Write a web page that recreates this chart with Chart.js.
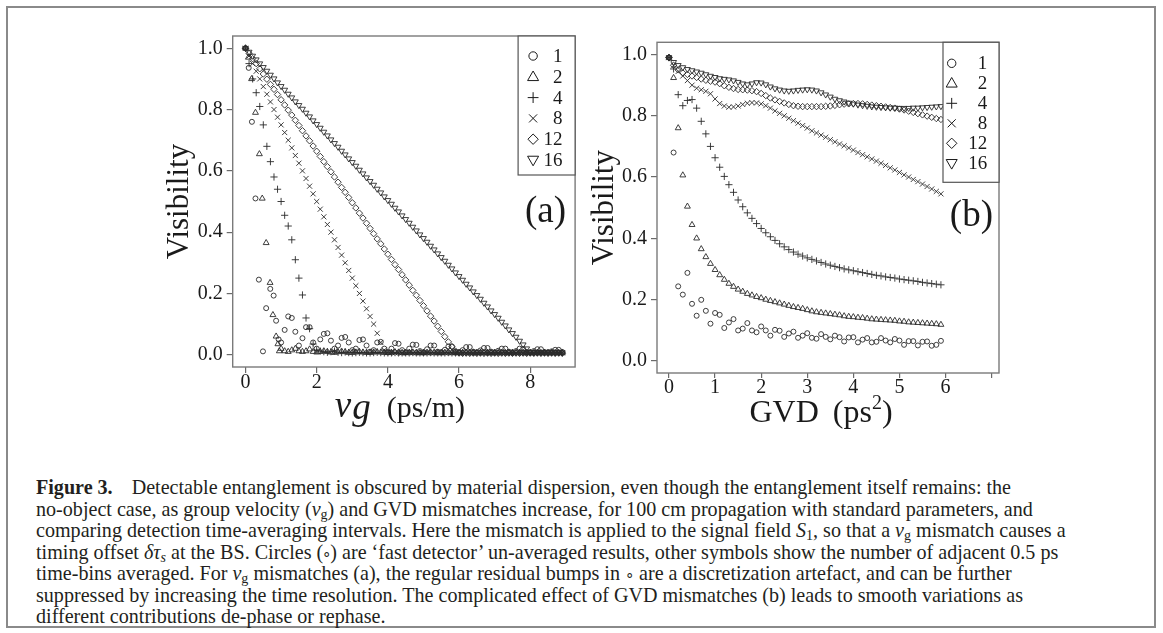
<!DOCTYPE html>
<html><head><meta charset="utf-8">
<script src="https://cdn.jsdelivr.net/npm/chart.js@4.4.1/dist/chart.umd.min.js"></script>
<style>
html,body{margin:0;padding:0;background:#fff;width:1163px;height:633px;overflow:hidden;}
#frame{position:absolute;left:6px;top:6px;width:1146px;height:618px;border:2px solid #8a8a8a;}
#wa{position:absolute;left:150px;top:20px;width:430px;height:420px;}
#wb{position:absolute;left:580px;top:20px;width:440px;height:420px;}
#cap{position:absolute;left:36px;top:477px;font-family:"Liberation Serif",serif;font-size:20.1px;color:#231f20;white-space:nowrap;}
#cap div{height:21.5px;line-height:21.5px;overflow:visible;}
#cap i{font-style:italic;}
#cap sub{font-size:70%;vertical-align:-3px;line-height:0;}
#cap .o{font-size:75%;line-height:0;}
#cap .p{margin:0 -1px;}
</style></head><body>
<div id="frame"></div>
<div id="wa"><canvas id="ca" width="430" height="420"></canvas></div>
<div id="wb"><canvas id="cb" width="440" height="420"></canvas></div>
<div id="cap">
<div><b>Figure 3.</b><span style="display:inline-block;width:19px"></span>Detectable entanglement is obscured by material dispersion, even though the entanglement itself remains: the</div>
<div>no-object case, as group velocity (<i>v</i><sub>g</sub>) and GVD mismatches increase, for 100 cm propagation with standard parameters, and</div>
<div>comparing detection time-averaging intervals. Here the mismatch is applied to the signal field <i>S</i><sub>1</sub>, so that a <i>v</i><sub>g</sub> mismatch causes a</div>
<div>timing offset <i>δτ<sub>s</sub></i> at the BS. Circles (<span class="o p">∘</span>) are ‘fast detector’ un-averaged results, other symbols show the number of adjacent 0.5 ps</div>
<div>time-bins averaged. For <i>v</i><sub>g</sub> mismatches (a), the regular residual bumps in <span class="o">∘</span> are a discretization artefact, and can be further</div>
<div>suppressed by increasing the time resolution. The complicated effect of GVD mismatches (b) leads to smooth variations as</div>
<div>different contributions de-phase or rephase.</div>
</div>
<script>
// ---------- DATA ----------
const seriesLabels = ['1','2','4','8','12','16'];
const yTicksLabel = 'Visibility';

// Panel (a): group-velocity mismatch v_g (ps/m)
const aX = [0,0.1,0.2,0.3,0.4,0.5,0.6,0.7,0.8,0.9,1,1.1,1.2,1.3,1.4,1.5,1.6,1.7,1.8,1.9,2,2.1,2.2,2.3,2.4,2.5,2.6,2.7,2.8,2.9,3,3.1,3.2,3.3,3.4,3.5,3.6,3.7,3.8,3.9,4,4.1,4.2,4.3,4.4,4.5,4.6,4.7,4.8,4.9,5,5.1,5.2,5.3,5.4,5.5,5.6,5.7,5.8,5.9,6,6.1,6.2,6.3,6.4,6.5,6.6,6.7,6.8,6.9,7,7.1,7.2,7.3,7.4,7.5,7.6,7.7,7.8,7.9,8,8.1,8.2,8.3,8.4,8.5,8.6,8.7,8.8,8.9];
const aX1 = [0,0.09,0.18,0.28,0.375,0.49,0.58,0.695,0.79,0.86,0.93,1,1.1,1.2,1.3,1.4,1.5,1.6,1.7,1.8,1.9,2,2.1,2.2,2.3,2.4,2.5,2.6,2.7,2.8,2.9,3,3.1,3.2,3.3,3.4,3.5,3.6,3.7,3.8,3.9,4,4.1,4.2,4.3,4.4,4.5,4.6,4.7,4.8,4.9,5,5.1,5.2,5.3,5.4,5.5,5.6,5.7,5.8,5.9,6,6.1,6.2,6.3,6.4,6.5,6.6,6.7,6.8,6.9,7,7.1,7.2,7.3,7.4,7.5,7.6,7.7,7.8,7.9,8,8.1,8.2,8.3,8.4,8.5,8.6,8.7,8.8,8.9];
const aV1 = [1.0,0.936,0.76,0.51,0.245,0.011,0.152,0.215,0.193,0.111,0.05,
0.04,0.081,0.125,0.12,0.075,0.03,0.054,0.09,0.09,0.04,
0.02,0.05,0.068,0.07,0.046,0.02,0.03,0.055,0.058,0.04,
0.015,0.02,0.048,0.05,0.03,0.01,0.015,0.04,0.042,0.02,
0.008,0.02,0.038,0.036,0.015,0.008,0.02,0.033,0.032,0.012,
0.008,0.018,0.03,0.03,0.01,0.008,0.016,0.027,0.027,0.01,
0.008,0.015,0.025,0.025,0.01,0.008,0.014,0.022,0.022,0.01,
0.008,0.013,0.02,0.02,0.01,0.008,0.012,0.02,0.019,0.009,
0.008,0.012,0.018,0.018,0.009,0.008,0.011,0.016,0.016,0.009];
const aX2 = [0,0.08,0.17,0.28,0.39,0.47,0.58,0.69,0.77,0.86,0.91,0.95,1,1.1,1.2,1.3,1.4,1.5,1.6,1.7,1.8,1.9,2,2.1,2.2,2.3,2.4,2.5,2.6,2.7,2.8,2.9,3,3.1,3.2,3.3,3.4,3.5,3.6,3.7,3.8,3.9,4,4.1,4.2,4.3,4.4,4.5,4.6,4.7,4.8,4.9,5,5.1,5.2,5.3,5.4,5.5,5.6,5.7,5.8,5.9,6,6.1,6.2,6.3,6.4,6.5,6.6,6.7,6.8,6.9,7,7.1,7.2,7.3,7.4,7.5,7.6,7.7,7.8,7.9,8,8.1,8.2,8.3,8.4,8.5,8.6,8.7,8.8,8.9];
const aV2 = [1.0,0.97,0.90,0.79,0.655,0.51,0.365,0.235,0.13,0.06,0.035,0.012,
0.02,0.012,0.01,0.015,0.02,0.012,0.01,0.012,0.018,0.01,
0.008,0.01,0.012,0.01,0.008,0.007,0.009,0.011,0.009,0.007,
0.007,0.008,0.01,0.008,0.007,0.007,0.008,0.009,0.008,0.007,
0.006,0.007,0.009,0.008,0.006,0.006,0.007,0.008,0.007,0.006,
0.006,0.007,0.008,0.007,0.006,0.006,0.007,0.008,0.007,0.006,
0.006,0.007,0.007,0.007,0.006,0.006,0.007,0.007,0.006,0.006,
0.006,0.006,0.007,0.006,0.006,0.006,0.006,0.007,0.006,0.006,
0.006,0.006,0.007,0.006,0.006,0.006,0.006,0.006,0.006,0.006];
const aV4 = [1.000,0.950,0.900,0.855,0.810,0.750,0.680,0.630,0.580,0.540,
0.500,0.455,0.420,0.375,0.310,0.250,0.195,0.120,0.085,0.035,
0.015,0.012,0.01,0.008,0.01,0.012,0.008,0.007,0.009,0.007,
0.006,0.007,0.008,0.007,0.006,0.006,0.007,0.008,0.007,0.006,
0.006,0.006,0.007,0.006,0.006,0.006,0.006,0.007,0.006,0.006,
0.006,0.006,0.007,0.006,0.006,0.006,0.006,0.007,0.006,0.006,
0.006,0.006,0.006,0.006,0.006,0.006,0.006,0.006,0.006,0.006,
0.006,0.006,0.006,0.006,0.006,0.006,0.006,0.006,0.006,0.006,
0.006,0.006,0.006,0.006,0.006,0.006,0.006,0.006,0.006,0.006];
const aV8 = [1.000,0.975,0.950,0.925,0.900,0.875,0.850,0.825,0.800,0.775,
0.750,0.725,0.700,0.675,0.650,0.625,0.600,0.575,0.550,0.525,
0.500,0.475,0.450,0.425,0.400,0.375,0.350,0.325,0.300,0.275,
0.250,0.225,0.200,0.175,0.150,0.125,0.100,0.070,0.040,0.015,
0.008,0.007,0.006,0.007,0.006,0.006,0.007,0.006,0.006,0.006,
0.006,0.006,0.006,0.006,0.006,0.006,0.006,0.006,0.006,0.006,
0.006,0.006,0.006,0.006,0.006,0.006,0.006,0.006,0.006,0.006,
0.006,0.006,0.006,0.006,0.006,0.006,0.006,0.006,0.006,0.006,
0.006,0.006,0.006,0.006,0.006,0.006,0.006,0.006,0.006,0.006];
const aV12 = [1.000,0.983,0.966,0.950,0.933,0.916,0.899,0.882,0.866,0.849,
0.832,0.815,0.798,0.782,0.765,0.748,0.731,0.714,0.698,0.681,
0.664,0.647,0.630,0.614,0.597,0.580,0.563,0.546,0.530,0.513,
0.496,0.479,0.462,0.446,0.429,0.412,0.395,0.378,0.362,0.345,
0.328,0.311,0.294,0.278,0.261,0.244,0.227,0.210,0.194,0.177,
0.160,0.143,0.126,0.110,0.093,0.076,0.059,0.042,0.026,0.012,
0.006,0.005,0.006,0.005,0.006,0.005,0.006,0.005,0.006,0.005,
0.006,0.005,0.006,0.005,0.006,0.005,0.006,0.005,0.006,0.005,
0.006,0.005,0.006,0.005,0.006,0.005,0.006,0.005,0.006,0.005];
const aV16 = [1.000,0.988,0.975,0.963,0.950,0.938,0.926,0.913,0.901,0.888,
0.876,0.864,0.851,0.839,0.826,0.814,0.802,0.789,0.777,0.764,
0.752,0.740,0.727,0.715,0.702,0.690,0.678,0.665,0.653,0.640,
0.628,0.616,0.603,0.591,0.578,0.566,0.554,0.541,0.529,0.516,
0.504,0.492,0.479,0.467,0.454,0.442,0.430,0.417,0.405,0.392,
0.380,0.368,0.355,0.343,0.330,0.318,0.306,0.293,0.281,0.268,
0.256,0.244,0.231,0.219,0.206,0.194,0.182,0.169,0.157,0.144,
0.132,0.120,0.107,0.095,0.082,0.070,0.058,0.045,0.033,0.020,
0.008,0.007,0.008,0.007,0.008,0.007,0.008,0.007,0.008,0.007];
const aXTicks = [0,2,4,6,8];

// Panel (b): GVD mismatch (ps^2)
const bX = [0,0.1,0.2,0.3,0.4,0.5,0.6,0.7,0.8,0.9,1,1.1,1.2,1.3,1.4,1.5,1.6,1.7,1.8,1.9,2,2.1,2.2,2.3,2.4,2.5,2.6,2.7,2.8,2.9,3,3.1,3.2,3.3,3.4,3.5,3.6,3.7,3.8,3.9,4,4.1,4.2,4.3,4.4,4.5,4.6,4.7,4.8,4.9,5,5.1,5.2,5.3,5.4,5.5,5.6,5.7,5.8,5.9];
const bV1 = [0.99,0.68,0.243,0.216,0.287,0.186,0.147,0.199,0.163,0.121,
0.156,0.150,0.107,0.125,0.136,0.099,0.105,0.123,0.099,0.093,
0.112,0.099,0.082,0.101,0.098,0.078,0.089,0.095,0.075,0.082,
0.090,0.075,0.072,0.087,0.078,0.070,0.082,0.077,0.063,0.076,
0.077,0.060,0.069,0.074,0.060,0.062,0.074,0.066,0.060,0.071,
0.066,0.052,0.064,0.064,0.050,0.062,0.063,0.049,0.052,0.065];
const bV2 = [0.99,0.924,0.76,0.606,0.504,0.444,0.40,0.365,0.339,0.317,
0.297,0.28,0.265,0.252,0.242,0.233,0.226,0.219,0.214,0.209,
0.205,0.2,0.196,0.192,0.188,0.184,0.18,0.176,0.173,0.17,
0.166,0.162,0.159,0.157,0.155,0.153,0.151,0.149,0.146,0.144,
0.143,0.141,0.14,0.138,0.136,0.135,0.134,0.133,0.132,0.131,
0.129,0.128,0.126,0.125,0.124,0.123,0.122,0.121,0.12,0.118];
const bV4 = [0.99,0.953,0.869,0.833,0.85,0.853,0.825,0.782,0.741,0.70,
0.663,0.632,0.602,0.575,0.55,0.525,0.503,0.483,0.465,0.448,
0.432,0.418,0.405,0.393,0.382,0.372,0.363,0.355,0.348,0.342,
0.336,0.331,0.326,0.321,0.316,0.312,0.308,0.304,0.300,0.297,
0.294,0.291,0.288,0.285,0.282,0.279,0.277,0.274,0.272,0.270,
0.267,0.265,0.263,0.261,0.259,0.256,0.254,0.252,0.25,0.248];
const bV8 = [0.99,0.965,0.945,0.93,0.915,0.90,0.89,0.885,0.88,0.872,
0.855,0.84,0.832,0.828,0.829,0.832,0.837,0.841,0.843,0.842,
0.839,0.833,0.825,0.816,0.808,0.80,0.792,0.784,0.776,0.768,
0.76,0.751,0.744,0.737,0.73,0.722,0.715,0.708,0.702,0.695,
0.688,0.68,0.673,0.666,0.659,0.652,0.645,0.638,0.63,0.623,
0.615,0.607,0.6,0.592,0.585,0.577,0.569,0.561,0.553,0.545];
const bV12 = [0.99,0.965,0.95,0.94,0.935,0.93,0.925,0.92,0.916,0.913,
0.91,0.905,0.898,0.893,0.889,0.886,0.885,0.884,0.882,0.879,
0.873,0.866,0.858,0.852,0.847,0.842,0.837,0.833,0.831,0.83,
0.83,0.83,0.83,0.83,0.831,0.832,0.834,0.836,0.838,0.839,
0.84,0.84,0.839,0.837,0.835,0.833,0.831,0.829,0.827,0.825,
0.822,0.819,0.815,0.811,0.807,0.803,0.799,0.795,0.791,0.788];
const bV16 = [0.99,0.975,0.965,0.958,0.952,0.948,0.944,0.94,0.935,0.93,
0.926,0.922,0.92,0.918,0.915,0.91,0.905,0.902,0.905,0.909,
0.908,0.902,0.895,0.889,0.885,0.882,0.881,0.882,0.884,0.885,
0.886,0.885,0.882,0.876,0.869,0.862,0.855,0.85,0.846,0.842,
0.839,0.836,0.834,0.832,0.83,0.829,0.828,0.827,0.826,0.826,
0.825,0.825,0.825,0.826,0.826,0.827,0.828,0.829,0.83,0.831];

// ---------- STYLE / RENDER ----------
const SERIF = '"Liberation Serif", "Times New Roman", serif';
const INK = '#2a2a2a';
const styles = [
  {ps:'circle', rot:0, r:2.5, lr:4.2},
  {ps:'triangle', rot:0, r:3.4, lr:5.8},
  {ps:'cross', rot:0, r:3.6, lr:5.4},
  {ps:'crossRot', rot:0, r:3.6, lr:5.6},
  {ps:'rectRot', rot:0, r:3.2, lr:5.2},
  {ps:'triangle', rot:180, r:3.4, lr:5.8}
];
function pts(xs, ys){ return ys.map((y,i)=>({x:xs[i], y:y})); }
function mkSets(list){
  return list.map((d,i)=>({
    label: seriesLabels[i], data: pts(d[0], d[1]), showLine:false,
    pointStyle: styles[i].ps, pointRotation: styles[i].rot, pointRadius: styles[i].r,
    pointBorderWidth: 0.9, pointBorderColor: INK, pointBackgroundColor:'rgba(0,0,0,0)'
  }));
}
function drawSym(ctx, st, x, y){
  const r = st.lr; ctx.beginPath();
  if (st.ps==='circle'){ ctx.arc(x,y,r,0,Math.PI*2); }
  else if (st.ps==='triangle'){
    const s = st.rot ? -1 : 1;
    ctx.moveTo(x, y - s*r); ctx.lineTo(x + 0.95*r, y + s*0.65*r); ctx.lineTo(x - 0.95*r, y + s*0.65*r); ctx.closePath();
  } else if (st.ps==='cross'){ ctx.moveTo(x-r,y); ctx.lineTo(x+r,y); ctx.moveTo(x,y-r); ctx.lineTo(x,y+r); }
  else if (st.ps==='crossRot'){ const q=0.72*r; ctx.moveTo(x-q,y-q); ctx.lineTo(x+q,y+q); ctx.moveTo(x-q,y+q); ctx.lineTo(x+q,y-q); }
  else if (st.ps==='rectRot'){ ctx.moveTo(x,y-r); ctx.lineTo(x+r,y); ctx.lineTo(x,y+r); ctx.lineTo(x-r,y); ctx.closePath(); }
  ctx.stroke();
}
const decor = {
  id:'decor',
  beforeDatasetsDraw(chart, args, o){
    const {ctx, chartArea:a} = chart; ctx.save();
    ctx.strokeStyle = '#7a7a7a'; ctx.lineWidth = 1.4;
    ctx.strokeRect(a.left, a.top, a.right-a.left, a.bottom-a.top);
    ctx.restore();
  },
  afterDatasetsDraw(chart, args, o){
    const {ctx, chartArea:a} = chart; ctx.save();
    const L = a.right - o.lw, T = a.top;
    ctx.fillStyle = '#fff'; ctx.fillRect(L, T, o.lw, o.lh);
    ctx.strokeStyle = '#555'; ctx.lineWidth = 1.2; ctx.strokeRect(L, T, o.lw, o.lh);
    ctx.font = '19px ' + SERIF; ctx.fillStyle = '#1a1a1a'; ctx.textAlign = 'right'; ctx.textBaseline = 'middle';
    chart.data.datasets.forEach((ds, i) => {
      const y = T + o.row0 + i*o.rowStep;
      ctx.strokeStyle = '#1a1a1a'; ctx.lineWidth = 1;
      drawSym(ctx, styles[i], L + o.symX, y);
      ctx.fillText(ds.label, L + o.textR, y + 1);
    });
    ctx.font = '37px ' + SERIF; ctx.textAlign = 'right'; ctx.textBaseline = 'middle';
    ctx.fillText(o.panel, a.right - o.panelR, a.top + o.panelY);
    const cx = (a.left + a.right)/2 + o.titleDx, base = a.bottom + o.titleBase;
    ctx.textAlign = 'left'; ctx.textBaseline = 'alphabetic';
    const parts = o.title; let tot = 0;
    parts.forEach(p => { ctx.font = p.f; p.w = ctx.measureText(p.t).width; tot += p.w + (p.gap||0); });
    let x = cx - tot/2;
    parts.forEach(p => { ctx.font = p.f; ctx.fillText(p.t, x, base + (p.dy||0)); x += p.w + (p.gap||0); });
    ctx.restore();
  }
};
function makeChart(id, sets, g){
  return new Chart(document.getElementById(id), {
    type:'scatter',
    data:{datasets: sets},
    plugins:[decor],
    options:{
      responsive:false, animation:false, events:[],
      layout:{padding:{left:0, right:g.padR, top:g.padT, bottom:0}},
      plugins:{legend:{display:false}, tooltip:{enabled:false}, decor:g.decor},
      scales:{
        x:{type:'linear', min:g.xmin, max:g.xmax,
           afterFit(s){ s.height = g.xH; },
           border:{display:false},
           grid:{display:true, drawOnChartArea:false, drawTicks:true, tickLength:g.tl, color:'#6a6a6a', lineWidth:1.2},
           ticks:{stepSize:g.xstep, includeBounds:false, autoSkip:false, maxRotation:0, padding:0,
                  color:'#1a1a1a', font:{family:SERIF, size:20, lineHeight:1},
                  callback:(v)=> g.xLabels.includes(v) ? String(v) : ''}},
        y:{type:'linear', min:-0.04, max:1.04,
           afterFit(s){ s.width = g.yW; },
           border:{display:false},
           grid:{display:true, drawOnChartArea:false, drawTicks:true, tickLength:6, color:'#6a6a6a', lineWidth:1.2},
           ticks:{stepSize:0.2, includeBounds:false, padding:4, color:'#1a1a1a', font:{family:SERIF, size:20},
                  callback:(v)=> v.toFixed(1)},
           title:{display:true, text:yTicksLabel, color:'#1a1a1a', font:{family:SERIF, size:31}, padding:{top:g.ytPad, bottom:0}}}
      }
    }
  });
}
const itF = 'italic 37px ' + SERIF, rmF = '30px ' + SERIF;
makeChart('ca', mkSets([[aX1,aV1],[aX2,aV2],[aX,aV4],[aX,aV8],[aX,aV12],[aX,aV16]]), {
  padR:4.3, padT:15, yW:82.7, xH:73, tl:6, xmin:-0.36, xmax:9.26, xstep:2, xLabels:aXTicks, ytPad:11.4,
  decor:{lw:57, lh:139, row0:20, rowStep:20.8, symX:15, textR:44.5, panel:'(a)', panelR:9, panelY:176,
         titleDx:-4, titleBase:50,
         title:[{t:'v', f:itF, gap:1},{t:'g', f:itF, dy:2, gap:16},{t:'(ps/m)', f:rmF}]}
});
makeChart('cb', mkSets([[bX,bV1],[bX,bV2],[bX,bV4],[bX,bV8],[bX,bV12],[bX,bV16]]), {
  padR:21, padT:22.3, yW:77, xH:67, tl:5, xmin:-0.26, xmax:7.16, xstep:1, xLabels:[0,1,2,3,4,5,6], ytPad:6.4,
  decor:{lw:56, lh:140, row0:21, rowStep:20, symX:8.7, textR:44.3, panel:'(b)', panelR:6, panelY:174,
         titleDx:-7, titleBase:48.7,
         title:[{t:'GVD', f:'32px '+SERIF, gap:14},{t:'(ps', f:'32px '+SERIF},{t:'2', f:'20px '+SERIF, dy:-13},{t:')', f:'32px '+SERIF}]}
});
</script>
</body></html>
